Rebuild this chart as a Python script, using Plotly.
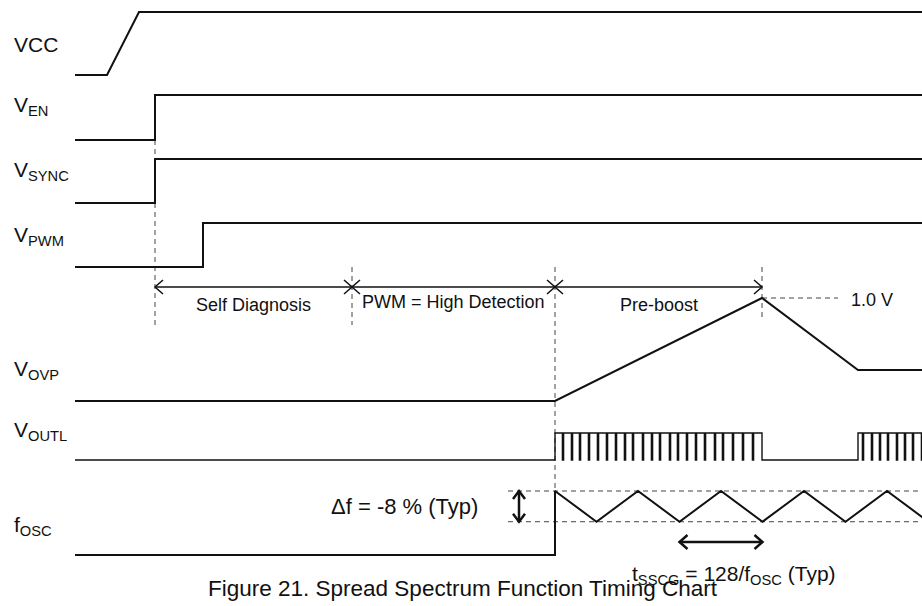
import plotly.graph_objects as go

# ---------------------------------------------------------------------------
# Timing data (time axis in arbitrary diagram units)
# ---------------------------------------------------------------------------
T_END = 847

vcc_t = [0, 32, 64, T_END]
vcc_v = [0, 0, 1, 1]

en_t = [0, 80, 80, T_END]
en_v = [0, 0, 1, 1]

sync_t = [0, 80, 80, T_END]
sync_v = [0, 0, 1, 1]

pwm_t = [0, 128, 128, T_END]
pwm_v = [0, 0, 1, 1]

# OVP pin voltage in volts
ovp_t = [0, 480, 687, 783, T_END]
ovp_v = [0.0, 0.0, 1.0, 0.3, 0.3]

# VOUTL switching bursts: (start, stop) and the short low notches inside each
outl_bursts = [(480, 687), (783, 900)]
outl_notches = [
    [488, 497, 505, 514, 523, 532, 541, 550, 558, 568, 577, 585, 595, 603,
     612, 621, 630, 640, 648, 658, 668, 678],
    [788, 797, 805, 813, 822, 830, 838, 847, 855],
]

# Oscillator frequency, normalised to its nominal value (0 = stopped)
osc_t = [0, 480, 480, 521.5, 563, 604.5, 646, 687.5, 729, 770.5, 812, 853.5, 895]
osc_v = [0, 0, 1.0, 0.52, 1.0, 0.52, 1.0, 0.52, 1.0, 0.52, 1.0, 0.52, 1.0]
osc_hi, osc_lo = 1.0, 0.52

phase_edges = [80, 277, 480, 687]
phase_names = ["Self Diagnosis", "PWM = High Detection", "Pre-boost"]

signal_labels = ["VCC", "V<sub>EN</sub>", "V<sub>SYNC</sub>", "V<sub>PWM</sub>",
                 "V<sub>OVP</sub>", "V<sub>OUTL</sub>", "f<sub>OSC</sub>"]

# ---------------------------------------------------------------------------
# Layout of the lanes (screen units, y grows downward)
# ---------------------------------------------------------------------------
W, H = 922, 606
X0 = -75                      # left edge of the time axis
lane = {                      # baseline, height of one level unit
    "vcc": (75, 63), "en": (140, 45), "sync": (203, 44), "pwm": (267, 44),
    "ovp": (401, 103), "outl": (460, 27), "osc": (555, 64),
}
label_y = [44, 106, 171, 236, 370, 431, 526]
label_x = -63
phase_arrow_y = 287
phase_label_y = [305, 302, 305]

FONT = "Arial, Liberation Sans, sans-serif"
INK = "#111111"
GUIDE = "#444444"


def ys(key, vals):
    base, amp = lane[key]
    return [base - v * amp for v in vals]


fig = go.Figure()


def poly(x, y, width=2.0, color=INK, dash=None):
    fig.add_trace(go.Scatter(
        x=x, y=y, mode="lines", hoverinfo="skip", showlegend=False,
        line=dict(color=color, width=width, dash=dash),
    ))


def chevron(x, y, dx, dy, length=8, half=7, width=1.5):
    """Open arrow head with its tip at (x, y), pointing along (dx, dy)."""
    px, py = -dy, dx
    poly([x - dx * length + px * half, x, x - dx * length - px * half],
         [y - dy * length + py * half, y, y - dy * length - py * half],
         width=width)


def double_arrow(x0, y0, x1, y1, width=1.5, length=8, half=7):
    poly([x0, x1], [y0, y1], width=width)
    dx, dy = x1 - x0, y1 - y0
    n = (dx * dx + dy * dy) ** 0.5
    dx, dy = dx / n, dy / n
    chevron(x1, y1, dx, dy, length, half, width)
    chevron(x0, y0, -dx, -dy, length, half, width)


# --- dashed guide lines ----------------------------------------------------
dash = "5px,4px"
ovp_peak_y = ys("ovp", [max(ovp_v)])[0]
osc_hi_y, osc_lo_y = ys("osc", [osc_hi, osc_lo])
guides = [
    (phase_edges[0], lane["en"][0] - lane["en"][1], 325),
    (phase_edges[1], 267, 325),
    (phase_edges[2], 267, osc_hi_y),
    (phase_edges[3], 267, ovp_peak_y + 20),
]
for gx, gy0, gy1 in guides:
    poly([gx, gx], [gy0, gy1], width=1, color=GUIDE, dash=dash)
poly([phase_edges[3], phase_edges[3] + 76], [ovp_peak_y, ovp_peak_y],
     width=1, color=GUIDE, dash=dash)
for yy in (osc_hi_y, osc_lo_y):
    poly([433, T_END], [yy, yy], width=1, color=GUIDE, dash=dash)

# --- waveforms -------------------------------------------------------------
poly(vcc_t, ys("vcc", vcc_v))
poly(en_t, ys("en", en_v))
poly(sync_t, ys("sync", sync_v))
poly(pwm_t, ys("pwm", pwm_v))
poly(ovp_t, ys("ovp", ovp_v))

ox, ov = [0], [0]
for (start, stop), notches in zip(outl_bursts, outl_notches):
    ox += [start, start]
    ov += [0, 1]
    for n in notches:
        ox += [n - 0.6, n - 0.6, n + 0.6, n + 0.6]
        ov += [1, 0, 0, 1]
    ox += [stop, stop]
    ov += [1, 0]
ox.append(T_END)
ov.append(0)
poly(ox, ys("outl", ov), width=1.4)

poly(osc_t, ys("osc", osc_v))

# --- phase arrows and labels ----------------------------------------------
for i, name in enumerate(phase_names):
    a, b = phase_edges[i], phase_edges[i + 1]
    double_arrow(a, phase_arrow_y, b, phase_arrow_y)
    fig.add_annotation(x=(a + b) / 2, y=phase_label_y[i], text=name,
                       showarrow=False, xanchor="center", yanchor="middle",
                       font=dict(size=18, family=FONT, color=INK))

fig.add_annotation(x=phase_edges[3] + 87, y=ovp_peak_y + 2, text="1.0 V",
                   showarrow=False, xanchor="left", yanchor="middle",
                   font=dict(size=18, family=FONT, color=INK))

# --- spread-spectrum annotations ------------------------------------------
double_arrow(444, osc_lo_y, 444, osc_hi_y, width=2.5, length=8, half=6)
fig.add_annotation(x=329, y=(osc_hi_y + osc_lo_y) / 2, text="\u0394f = -8 % (Typ)",
                   showarrow=False, xanchor="center", yanchor="middle",
                   font=dict(size=22, family=FONT, color=INK))

t_sscg = (osc_t[5], osc_t[7])
double_arrow(t_sscg[0], 542, t_sscg[1], 542, width=2.5, length=8, half=7)
fig.add_annotation(x=555, y=575,
                   text="t<sub>SSCG</sub> = 128/f<sub>OSC</sub> (Typ)",
                   showarrow=False, xanchor="left", yanchor="middle",
                   font=dict(size=21, family=FONT, color=INK))

# --- signal names ----------------------------------------------------------
for text, yy in zip(signal_labels, label_y):
    fig.add_annotation(x=label_x, y=yy, text=text, showarrow=False,
                       xanchor="left", yanchor="middle",
                       font=dict(size=21, family=FONT, color=INK))

fig.add_annotation(x=388, y=588,
                   text="Figure 21. Spread Spectrum Function Timing Chart",
                   showarrow=False, xanchor="center", yanchor="middle",
                   font=dict(size=22.5, family=FONT, color=INK))

fig.update_layout(
    width=W, height=H, margin=dict(l=0, r=0, t=0, b=0),
    paper_bgcolor="white", plot_bgcolor="white",
    xaxis=dict(range=[X0, X0 + W], visible=False, fixedrange=True),
    yaxis=dict(range=[H, 0], visible=False, fixedrange=True),
)

fig.write_html("out.html", config={"displayModeBar": False})
